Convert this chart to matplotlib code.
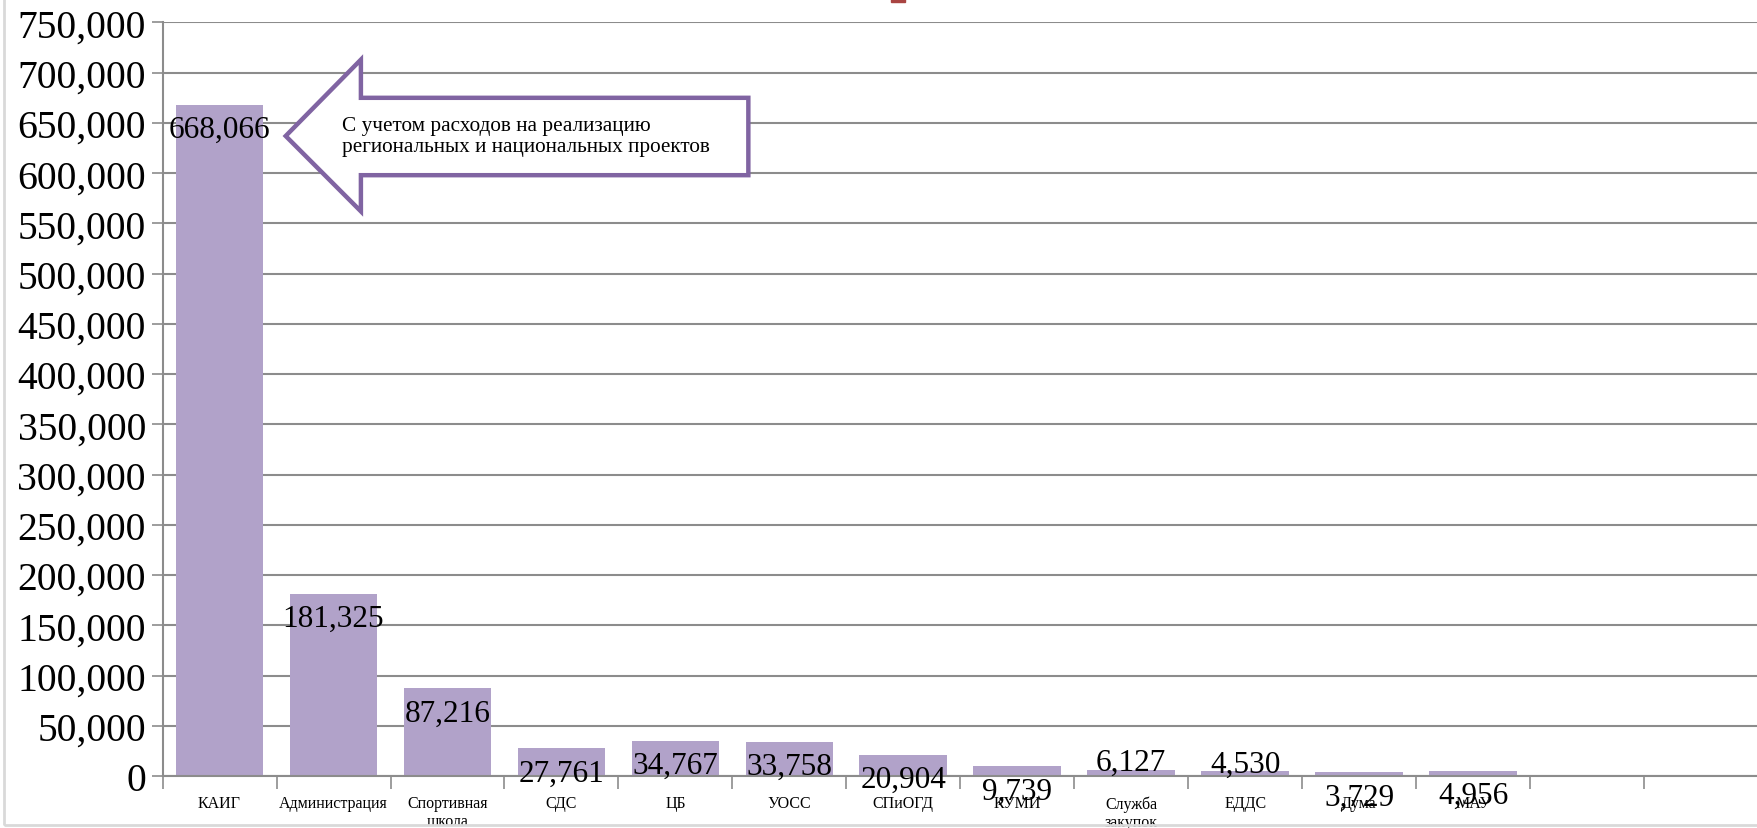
import matplotlib
matplotlib.use("Agg")
import matplotlib.pyplot as plt
from matplotlib.patches import Polygon, Rectangle

plt.rcParams['font.family'] = ['Liberation Serif', 'DejaVu Serif']

# данные
categories = ['КАИГ', 'Администрация', 'Спортивная\nшкола', 'СДС', 'ЦБ', 'УОСС',
              'СПиОГД', 'КУМИ', 'Служба\nзакупок', 'ЕДДС', 'Дума', 'МАУ', '', '']
values = [668066, 181325, 87216, 27761, 34767, 33758, 20904, 9739, 6127, 4530, 3729, 4956]
labels_above = [8, 9]  # подписи над столбцом
note = 'С учетом расходов на реализацию\nрегиональных и национальных проектов'

bar_color = '#b1a2c9'
arrow_color = '#8064a2'
grid_color = '#8c8c8c'

fig = plt.figure(figsize=(17.58, 8.29), dpi=100)
ax = fig.add_axes([0.0925, 0.0627, 0.9075, 0.909])

x = list(range(len(values)))
ax.bar(x, values, width=0.77, color=bar_color, zorder=2)

for i, v in enumerate(values):
    dy = 5.5 if i in labels_above else -17.8
    ax.annotate(f'{v:,}', (i, v), xytext=(0, dy), textcoords='offset points',
                ha='center', va='center', fontsize=22.5, zorder=5)

ax.set_xlim(-0.5, len(categories) - 0.5)
ax.set_ylim(0, 750000)
ax.set_yticks(range(0, 750001, 50000))
ax.set_yticklabels([f'{t:,}' for t in range(0, 750001, 50000)], fontsize=28.5)
ax.yaxis.grid(True, color=grid_color, linewidth=1.5, zorder=0)
ax.set_axisbelow(True)

ax.set_xticks(range(len(categories)))
ax.set_xticklabels(categories, fontsize=11.5, linespacing=1.15)
ax.set_xticks([i + 0.5 for i in range(-1, len(categories))], minor=True)
ax.tick_params(axis='x', which='major', length=0, pad=14)
ax.tick_params(axis='x', which='minor', length=9, width=1.2, color=grid_color)
ax.tick_params(axis='y', length=8, width=1.2, color=grid_color, pad=4)

for s in ['top', 'right']:
    ax.spines[s].set_visible(False)
for s in ['left', 'bottom']:
    ax.spines[s].set_color(grid_color)
    ax.spines[s].set_linewidth(1.5)

# стрелка-выноска
arrow = Polygon([(0.58, 637000), (1.24, 713000), (1.24, 675000), (4.64, 675000),
                 (4.64, 598000), (1.24, 598000), (1.24, 562000)],
                closed=True, facecolor='white', edgecolor=arrow_color,
                linewidth=3.2, joinstyle='miter', zorder=4)
ax.add_patch(arrow)
ax.text(1.07, 637000, note, fontsize=15.3, ha='left', va='center',
        linespacing=1.2, zorder=5)

# рамка и обрезанный заголовок
fig.patches.append(Rectangle((4 / 1758, 3 / 829), 1.0, 1.0, transform=fig.transFigure,
                             fill=False, edgecolor='#d9d9d9', linewidth=2))
fig.patches.append(Rectangle((891 / 1758, 1 - 3 / 829), 14 / 1758, 3 / 829,
                             transform=fig.transFigure, color='#a94442'))

fig.savefig('out.png', dpi=100)
